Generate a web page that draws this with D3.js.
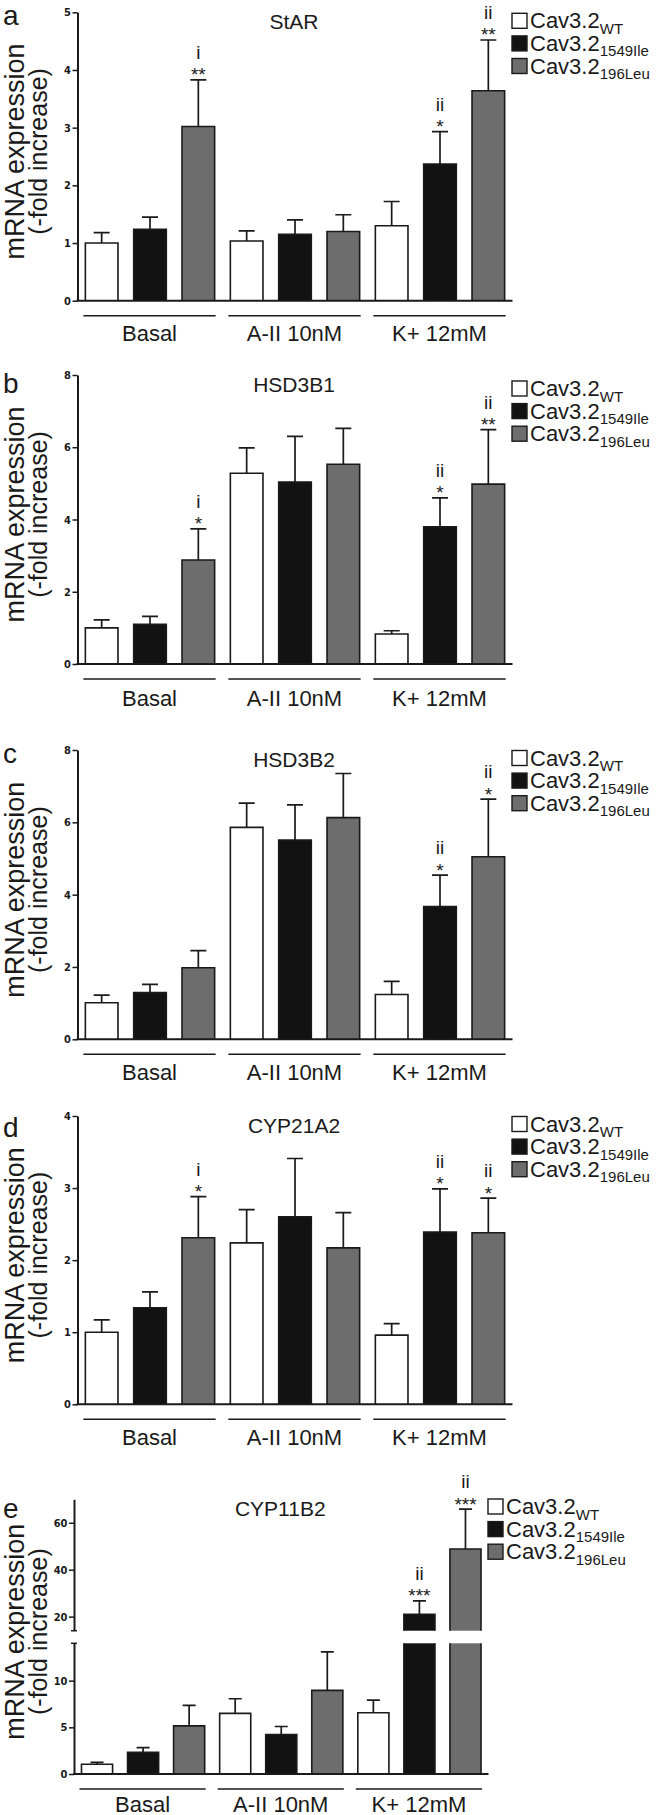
<!DOCTYPE html>
<html><head><meta charset="utf-8">
<script src="https://cdn.jsdelivr.net/npm/d3@7"></script>
<style>
body{margin:0;background:#fff;}
svg{display:block;}
text{font-family:"Liberation Sans",Arial,Helvetica,sans-serif;fill:#1a1a1a;}
.tick text{font-family:"Liberation Sans Narrow","Arial Narrow","DejaVu Sans Condensed","Liberation Sans",sans-serif;font-weight:bold;font-size:11px;fill:#1a1a1a;}
</style></head><body>
<svg id="fig" width="661" height="1815"></svg>
<script>
// ---------------- DATA ----------------
const groups = ["Basal", "A-II 10nM", "K+ 12mM"];
const seriesSub = ["WT", "1549Ile", "196Leu"];
const seriesBase = "Cav3.2";
const panelLetters = ["a", "b", "c", "d", "e"];
const genes = ["StAR", "HSD3B1", "HSD3B2", "CYP21A2", "CYP11B2"];

// means [Basal, A-II 10nM, K+ 12mM] and upper SEM, per series
const starWT = [1.00, 1.035, 1.30],   starWTsem = [0.18, 0.175, 0.42];
const star1549 = [1.24, 1.15, 2.37],  star1549sem = [0.21, 0.25, 0.56];
const star196 = [3.02, 1.20, 3.64],   star196sem = [0.81, 0.29, 0.88];

const hsd1WT = [1.00, 5.28, 0.83],    hsd1WTsem = [0.22, 0.70, 0.09];
const hsd11549 = [1.10, 5.04, 3.80],  hsd11549sem = [0.22, 1.26, 0.80];
const hsd1196 = [2.88, 5.53, 4.98],   hsd1196sem = [0.86, 0.99, 1.51];

const hsd2WT = [1.01, 5.86, 1.24],    hsd2WTsem = [0.21, 0.67, 0.36];
const hsd21549 = [1.29, 5.51, 3.67],  hsd21549sem = [0.23, 0.97, 0.87];
const hsd2196 = [1.98, 6.13, 5.05],   hsd2196sem = [0.47, 1.22, 1.59];

const cyp21WT = [1.00, 2.24, 0.96],   cyp21WTsem = [0.17, 0.46, 0.16];
const cyp211549 = [1.34, 2.60, 2.39], cyp211549sem = [0.22, 0.81, 0.60];
const cyp21196 = [2.31, 2.17, 2.38],  cyp21196sem = [0.57, 0.49, 0.48];

const cyp11WT = [1.04, 6.49, 6.56],   cyp11WTsem = [0.21, 1.57, 1.36];
const cyp111549 = [2.33, 4.23, 21.0], cyp111549sem = [0.50, 0.86, 5.7];
const cyp11196 = [5.16, 8.96, 48.8],  cyp11196sem = [2.19, 4.12, 17.0];

// y tick values per panel
const ticksA = [0, 1, 2, 3, 4, 5];
const ticksB = [0, 2, 4, 6, 8];
const ticksC = [0, 2, 4, 6, 8];
const ticksD = [0, 1, 2, 3, 4];
const ticksELow = [0, 5, 10];
const ticksEHigh = [20, 40, 60];

// significance annotations: [group index, series index, stars, roman]
const annA = [[0, 2, "**", "i"], [2, 1, "*", "ii"], [2, 2, "**", "ii"]];
const annB = [[0, 2, "*", "i"], [2, 1, "*", "ii"], [2, 2, "**", "ii"]];
const annC = [[2, 1, "*", "ii"], [2, 2, "*", "ii"]];
const annD = [[0, 2, "*", "i"], [2, 1, "*", "ii"], [2, 2, "*", "ii"]];
const annE = [[2, 1, "***", "ii"], [2, 2, "***", "ii"]];

// ---------------- STYLE / LAYOUT ----------------
const fills = ["#ffffff", "#121212", "#6d6d6d"];
const ink = "#1a1a1a";

const panels = [
  {letter: panelLetters[0], gene: genes[0], means: [starWT, star1549, star196], sems: [starWTsem, star1549sem, star196sem],
   ann: annA, x0: 77.5, x1: 512.5, segs: [{dom: [0, 5], rng: [300.7, 12.3], ticks: ticksA}], letterY: 25, legendY: 13.3, labelOff: 40.5},
  {letter: panelLetters[1], gene: genes[1], means: [hsd1WT, hsd11549, hsd1196], sems: [hsd1WTsem, hsd11549sem, hsd1196sem],
   ann: annB, x0: 77.5, x1: 512.5, segs: [{dom: [0, 8], rng: [664, 375], ticks: ticksB}], letterY: 393, legendY: 381, labelOff: 42},
  {letter: panelLetters[2], gene: genes[2], means: [hsd2WT, hsd21549, hsd2196], sems: [hsd2WTsem, hsd21549sem, hsd2196sem],
   ann: annC, x0: 77.5, x1: 512.5, segs: [{dom: [0, 8], rng: [1039.3, 750], ticks: ticksC}], letterY: 763, legendY: 750.5, labelOff: 41},
  {letter: panelLetters[3], gene: genes[3], means: [cyp21WT, cyp211549, cyp21196], sems: [cyp21WTsem, cyp211549sem, cyp21196sem],
   ann: annD, x0: 77.5, x1: 512.5, segs: [{dom: [0, 4], rng: [1404.3, 1116], ticks: ticksD}], letterY: 1136.5, legendY: 1116.5, labelOff: 41},
  {letter: panelLetters[4], gene: genes[4], means: [cyp11WT, cyp111549, cyp11196], sems: [cyp11WTsem, cyp111549sem, cyp11196sem],
   ann: annE, x0: 74, x1: 488.5, segs: [{dom: [0, 14], rng: [1774, 1643.3], ticks: ticksELow},
                                       {dom: [14, 70], rng: [1630.7, 1499.3], ticks: ticksEHigh}],
   letterY: 1518, legendY: 1499, labelOff: 37.5, broken: true}
];

const svg = d3.select("#fig");

function drawPanel(p) {
  const g = svg.append("g");
  const x = d3.scaleBand().domain(d3.range(9)).range([p.x0, p.x1]).paddingInner(0.325).paddingOuter(0.1625);
  const bw = x.bandwidth();
  const segs = p.segs.map(s => Object.assign({}, s, {y: d3.scaleLinear().domain(s.dom).range(s.rng).clamp(true)}));
  const zeroY = segs[0].y(0);
  const topY = segs[segs.length - 1].rng[1];
  const scaleFor = v => segs.find(s => v >= s.dom[0] && v <= s.dom[1]) || segs[segs.length - 1];

  const items = [];
  groups.forEach((gr, gi) => p.means.forEach((m, si) => {
    items.push({gi, si, idx: gi * 3 + si, v: m[gi], e: m[gi] + p.sems[si][gi]});
  }));

  // bars
  items.forEach(d => {
    const bx = x(d.idx);
    segs.forEach((s, k) => {
      if (d.v <= s.dom[0]) return;
      const yTop = s.y(d.v), yBot = s.y(s.dom[0]);
      const trueTop = d.v <= s.dom[1];
      g.append("rect").attr("x", bx).attr("y", yTop).attr("width", bw).attr("height", Math.max(0, yBot - yTop))
        .attr("fill", fills[d.si]);
      let path = `M${bx},${yBot}V${yTop}`;
      path += trueTop ? `H${bx + bw}` : `M${bx + bw},${yTop}`;
      path += `V${yBot}`;
      g.append("path").attr("d", path).attr("fill", "none").attr("stroke", ink).attr("stroke-width", 1.6);
    });
    // error bar (upward)
    const s = scaleFor(d.e);
    const ys = s.y(d.v), ye = s.y(d.e);
    const cx = x(d.idx) + bw / 2;
    const capHalf = p.broken ? 6.5 : 8;
    g.append("path").attr("d", `M${cx},${ys}V${ye}M${cx - capHalf},${ye}H${cx + capHalf}`)
      .attr("fill", "none").attr("stroke", ink).attr("stroke-width", 1.7);
  });

  // annotations
  p.ann.forEach(([gi, si, st, rom]) => {
    const d = items.find(it => it.gi === gi && it.si === si);
    const ye = scaleFor(d.e).y(d.e);
    const cx = x(d.idx) + bw / 2;
    g.append("text").attr("x", cx).attr("y", ye + 1.5).attr("text-anchor", "middle")
      .style("font-size", "19px").text(st);
    g.append("text").attr("x", cx).attr("y", ye - 21).attr("text-anchor", "middle")
      .style("font-size", "19px").text(rom);
  });

  // axes
  segs.forEach((s, k) => {
    const ax = g.append("g").attr("transform", `translate(${p.x0},0)`)
      .call(d3.axisLeft(s.y).tickValues(s.ticks).tickSize(5).tickSizeOuter(0).tickPadding(1.5).tickFormat(d3.format("d")));
    ax.select(".domain").attr("stroke", ink).attr("stroke-width", 2);
    ax.selectAll(".tick line").attr("stroke", ink).attr("stroke-width", 1.5);
  });
  if (p.broken) {
    [segs[0].rng[1], segs[1].rng[0]].forEach(yy => {
      g.append("line").attr("x1", p.x0 - 3).attr("x2", p.x0 + 3).attr("y1", yy).attr("y2", yy)
        .attr("stroke", ink).attr("stroke-width", 1.5);
    });
  }
  // x baseline
  g.append("line").attr("x1", p.x0 - 1).attr("x2", p.x1).attr("y1", zeroY).attr("y2", zeroY)
    .attr("stroke", ink).attr("stroke-width", 2);

  // group lines + labels
  groups.forEach((gr, gi) => {
    const a = x(gi * 3) - 2, b = x(gi * 3 + 2) + bw + 1;
    g.append("line").attr("x1", a).attr("x2", b).attr("y1", zeroY + 15).attr("y2", zeroY + 15)
      .attr("stroke", ink).attr("stroke-width", 1.5);
    g.append("text").attr("x", (a + b) / 2).attr("y", zeroY + p.labelOff).attr("text-anchor", "middle")
      .style("font-size", "22px").text(gr);
  });

  // title
  g.append("text").attr("x", (p.x0 + p.x1) / 2 - 1).attr("y", topY + 16.5).attr("text-anchor", "middle")
    .style("font-size", "21px").text(p.gene);

  // panel letter
  g.append("text").attr("x", 3).attr("y", p.letterY).style("font-size", "28px").text(p.letter);

  // y axis title
  const cy = (zeroY + topY) / 2 - 5;
  g.append("text").attr("transform", `translate(23.5,${cy}) rotate(-90)`).attr("text-anchor", "middle")
    .style("font-size", "27px").text("mRNA expression");
  g.append("text").attr("transform", `translate(46.5,${cy}) rotate(-90)`).attr("text-anchor", "middle")
    .style("font-size", "25px").text("(-fold increase)");

  // legend
  const lx = p.x1 - 0.5;
  seriesSub.forEach((sub, i) => {
    const ly = p.legendY + i * 22.6;
    g.append("rect").attr("x", lx).attr("y", ly).attr("width", 15).attr("height", 15)
      .attr("fill", fills[i]).attr("stroke", ink).attr("stroke-width", 1.4);
    const t = g.append("text").attr("x", lx + 18).attr("y", ly + 15).style("font-size", "22px");
    t.append("tspan").text(seriesBase);
    t.append("tspan").attr("dy", 5.5).style("font-size", "15px").text(sub);
  });
}

panels.forEach(drawPanel);
</script>
</body></html>
